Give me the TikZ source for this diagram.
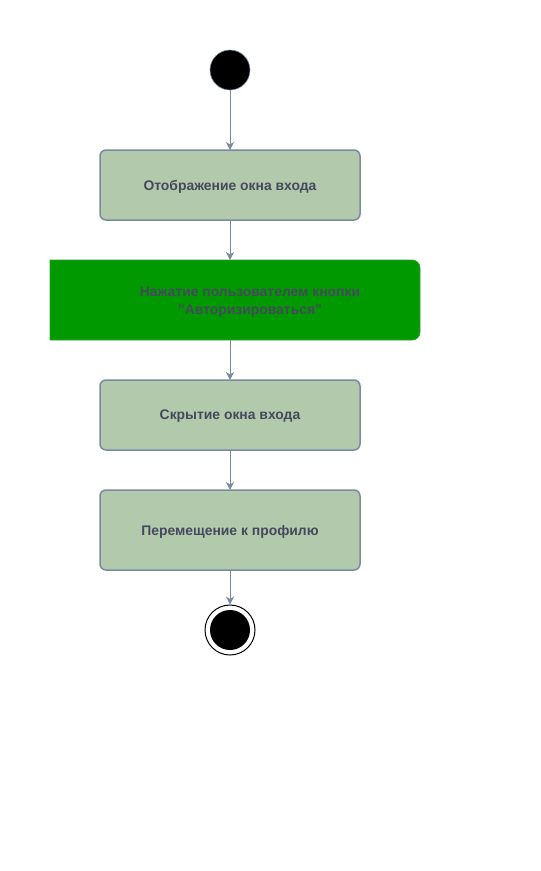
\documentclass[tikz,border=0pt]{standalone}
\usepackage{fontspec}
\setmainfont{Liberation Sans}
\usetikzlibrary{arrows.meta}
\definecolor{boxfill}{HTML}{B2C9AB}
\definecolor{boxline}{HTML}{788AA3}
\definecolor{txt}{HTML}{46495D}
\definecolor{greenfill}{HTML}{009900}
\definecolor{greenline}{HTML}{2FA12F}
\begin{document}
\begin{tikzpicture}[x=1pt,y=-1pt,
  actbox/.style={draw=boxline,fill=boxfill,line width=1.5pt,rounded corners=6pt},
  lbl/.style={text=txt,font=\fontsize{13.9}{18}\selectfont\bfseries,align=center},
  conn/.style={draw=boxline,line width=0.9pt,-{Stealth[length=8pt,width=8pt,inset=2.5pt]}}]
\useasboundingbox (0,0) rectangle (541,871);
% start
\node[circle,fill=black,draw=boxline,line width=0.6pt,minimum size=40pt,inner sep=0pt] (start) at (230,70) {};
% boxes
\draw[actbox] (100,150) rectangle (360,220);
\node[lbl] (b1) at (230,186.5) {Отображение окна входа};
\coordinate (b1t) at (230,150);
\coordinate (b1b) at (230,220);
\draw[draw=greenline,fill=greenfill,line width=0.8pt]
  (50,260) [rounded corners=8pt] -- (420,260) -- (420,340) [sharp corners] -- (50,340) -- cycle;
\node[lbl] (b2) at (250,302.5) {Нажатие пользователем кнопки\\"Авторизироваться"};
\coordinate (b2t) at (230,260);
\coordinate (b2b) at (230,340);
\draw[actbox] (100,380) rectangle (360,450);
\node[lbl] (b3) at (230,416.5) {Скрытие окна входа};
\coordinate (b3t) at (230,380);
\coordinate (b3b) at (230,450);
\draw[actbox] (100,490) rectangle (360,570);
\node[lbl] (b4) at (230,531.5) {Перемещение к профилю};
\coordinate (b4t) at (230,490);
\coordinate (b4b) at (230,570);
% end
\node[circle,draw=black,line width=1pt,fill=white,minimum size=50pt,inner sep=0pt] (endo) at (230,630) {};
\node[circle,fill=black,minimum size=40pt,inner sep=0pt] (endi) at (230,630) {};
% connectors
\draw[conn] (start) -- (b1t);
\draw[conn] (b1b) -- (b2t);
\draw[conn] (b2b) -- (b3t);
\draw[conn] (b3b) -- (b4t);
\draw[conn] (b4b) -- (endo);
\end{tikzpicture}
\end{document}
